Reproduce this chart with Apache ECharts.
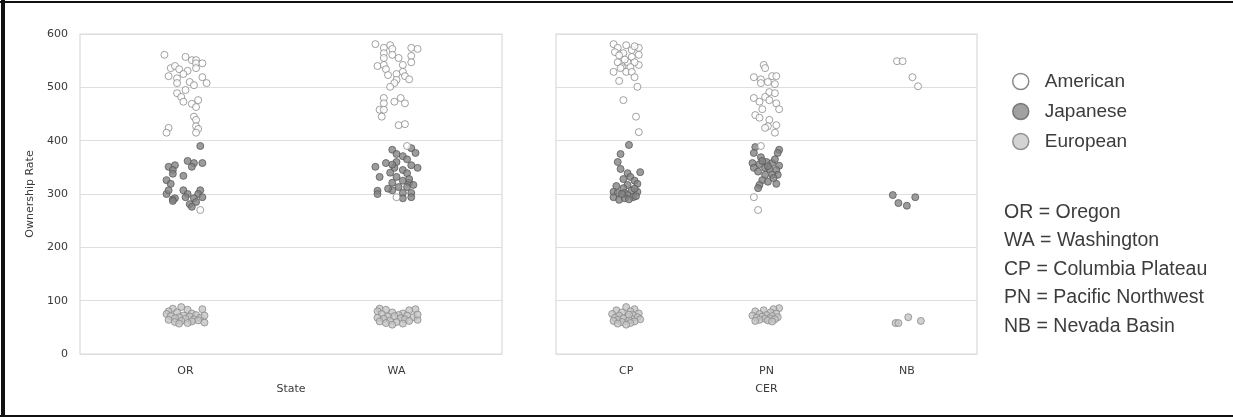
<!DOCTYPE html>
<html>
<head>
<meta charset="utf-8">
<script src="https://cdn.jsdelivr.net/npm/echarts@6/dist/echarts.min.js"></script>
<style>
html,body{margin:0;padding:0;background:#fff;}
#c{width:1233px;height:417px;}
</style>
</head>
<body>
<div id="c"></div>
<script>
// ---- categories / labels ----
const states = ['OR', 'WA'];
const cers = ['CP', 'PN', 'NB'];
const origins = ['American', 'Japanese', 'European'];
const yTicks = [0, 100, 200, 300, 400, 500, 600];
const abbreviations = ['OR = Oregon', 'WA = Washington', 'CP = Columbia Plateau', 'PN = Pacific Northwest', 'NB = Nevada Basin'];

// ---- values (ownership rate) and strip jitter (category units) ----
const OR_American = [561,557,551,551,545,545,536,540,534,531,536,521,525,519,517,508,508,510,504,495,489,482,476,473,469,463,445,439,427,422,415,424,415,270];
const OR_American_jitter = [-0.10,0.00,0.03,0.05,0.05,0.08,-0.07,-0.05,-0.03,0.01,0.05,-0.08,-0.01,0.08,-0.04,0.10,-0.04,0.02,0.04,0.00,-0.04,-0.02,0.06,-0.01,0.03,0.05,0.04,0.05,0.05,0.06,0.05,-0.08,-0.09,0.07];
const OR_Japanese = [390,362,358,358,351,354,351,345,338,334,326,319,300,307,307,300,307,300,294,292,294,290,292,285,281,276,287];
const OR_Japanese_jitter = [0.07,0.01,0.04,0.08,0.03,-0.05,-0.08,-0.06,-0.06,-0.01,-0.09,-0.07,-0.09,-0.08,-0.01,0.01,0.07,0.06,0.00,0.04,0.08,-0.06,-0.05,0.05,0.02,0.03,-0.06];
const OR_European = [85,88,83,84,80,78,76,75,73,72,71,70,69,68,67,66,65,64,63,62,61,60,59,58,57,72];
const OR_European_jitter = [-0.06,-0.02,0.01,0.08,-0.08,-0.04,0.03,-0.09,0.05,-0.01,-0.07,0.02,-0.03,0.07,-0.05,0.00,0.04,-0.08,0.06,-0.02,0.03,-0.05,0.09,0.01,-0.03,0.09];

const WA_American = [581,574,579,572,574,572,564,561,559,555,555,540,542,542,547,534,529,525,523,521,515,514,508,501,480,473,480,470,470,458,458,445,429,431,390,294];
const WA_American_jitter = [-0.10,-0.06,-0.03,-0.02,0.07,0.10,-0.06,-0.02,0.07,-0.06,0.01,-0.09,-0.06,0.03,0.07,-0.05,0.03,0.00,-0.04,0.04,0.06,0.00,-0.01,-0.03,-0.06,-0.01,0.02,0.04,-0.06,-0.08,-0.06,-0.07,0.01,0.04,0.05,0.00];
const WA_Japanese = [386,383,377,375,371,358,360,351,354,349,345,349,339,332,332,325,321,321,313,313,317,306,300,307,302,302,292,294,340,328,355,365,310];
const WA_Japanese_jitter = [0.07,-0.02,0.09,0.00,0.03,-0.05,0.00,-0.10,0.07,0.10,0.03,-0.01,0.05,-0.08,0.00,0.03,-0.02,0.06,0.01,0.05,0.08,-0.09,-0.09,-0.02,0.03,0.07,0.03,0.07,-0.03,0.06,-0.02,0.05,-0.04];
const WA_European = [85,83,80,78,76,82,84,75,73,72,70,69,68,67,66,65,64,63,62,61,60,58,57,55,74,71];
const WA_European_jitter = [-0.08,-0.05,-0.09,-0.02,0.03,0.06,0.09,-0.07,0.01,0.05,-0.04,0.08,-0.09,0.02,-0.06,0.04,0.10,-0.03,0.06,-0.08,0.00,-0.05,0.03,-0.02,0.10,-0.01];

const CP_American = [581,574,579,574,566,564,561,557,547,547,542,547,538,538,529,529,529,536,519,512,501,476,445,416,570,552,560,577];
const CP_American_jitter = [-0.09,-0.06,0.00,0.09,-0.08,-0.02,0.09,0.04,-0.06,0.01,0.09,0.06,-0.03,0.03,-0.09,0.00,0.04,-0.04,0.06,-0.05,0.08,-0.02,0.07,0.09,0.04,-0.01,-0.05,0.06];
const CP_Japanese = [392,375,360,347,341,339,332,328,325,319,315,317,311,307,304,304,302,302,298,294,289,292,294,310,296,290,300];
const CP_Japanese_jitter = [0.02,-0.04,-0.06,-0.04,0.10,0.01,0.03,-0.02,0.06,0.08,-0.07,0.01,-0.02,0.04,0.08,-0.09,-0.06,-0.01,0.01,-0.09,-0.05,-0.01,0.05,0.06,0.07,0.02,-0.03];
const CP_European = [88,84,82,80,78,76,75,73,72,70,69,68,67,66,65,64,63,62,61,60,58,57,55,74];
const CP_European_jitter = [0.00,0.06,-0.07,0.03,-0.03,0.09,-0.10,0.05,-0.05,0.01,0.08,-0.08,-0.02,0.04,0.10,-0.06,0.02,-0.09,0.06,-0.03,0.03,-0.06,0.00,0.02];

const PN_American = [542,536,519,515,521,521,510,508,506,491,489,480,482,473,476,470,459,459,448,443,439,429,427,424,415,390,294,270];
const PN_American_jitter = [-0.02,-0.01,-0.09,-0.04,0.04,0.07,0.01,-0.04,0.06,0.02,0.06,-0.09,-0.01,-0.05,0.02,0.07,0.09,-0.03,-0.08,-0.05,0.02,0.07,0.01,-0.01,0.06,-0.04,-0.09,-0.06];
const PN_Japanese = [388,383,377,377,369,358,356,360,358,353,349,349,347,345,336,336,336,326,323,319,317,311,352,362,342,330,365];
const PN_Japanese_jitter = [-0.08,0.09,-0.09,0.08,-0.04,-0.10,-0.05,0.00,0.04,0.09,-0.09,-0.01,0.02,0.07,0.08,-0.01,0.04,-0.03,0.01,0.07,-0.05,-0.06,0.01,-0.03,-0.06,0.05,0.06];
const PN_European = [86,84,82,80,78,76,75,73,72,71,70,69,68,67,66,65,64,63,62,61];
const PN_European_jitter = [0.09,0.05,-0.02,-0.08,0.03,0.07,-0.05,0.00,-0.10,0.04,-0.03,0.08,-0.07,0.02,-0.01,0.06,-0.05,0.01,-0.08,0.04];

const NB_American = [549,549,519,502];
const NB_American_jitter = [-0.07,-0.03,0.04,0.08];
const NB_Japanese = [298,283,278,294];
const NB_Japanese_jitter = [-0.10,-0.06,0.00,0.06];
const NB_European = [58,58,69,62];
const NB_European_jitter = [-0.08,-0.06,0.01,0.10];

// ---- build ----
const groups = {
  OR: {American:[OR_American,OR_American_jitter], Japanese:[OR_Japanese,OR_Japanese_jitter], European:[OR_European,OR_European_jitter]},
  WA: {American:[WA_American,WA_American_jitter], Japanese:[WA_Japanese,WA_Japanese_jitter], European:[WA_European,WA_European_jitter]},
  CP: {American:[CP_American,CP_American_jitter], Japanese:[CP_Japanese,CP_Japanese_jitter], European:[CP_European,CP_European_jitter]},
  PN: {American:[PN_American,PN_American_jitter], Japanese:[PN_Japanese,PN_Japanese_jitter], European:[PN_European,PN_European_jitter]},
  NB: {American:[NB_American,NB_American_jitter], Japanese:[NB_Japanese,NB_Japanese_jitter], European:[NB_European,NB_European_jitter]}
};

const styles = {
  American: {color:'#ffffff', borderColor:'#8a8a8a', borderWidth:1},
  Japanese: {color:'#838383', borderColor:'#5a5a5a', borderWidth:1},
  European: {color:'#c4c4c4', borderColor:'#8a8a8a', borderWidth:1}
};
const legendStyles = {
  American: {color:'#ffffff', borderColor:'#6a6a6a', borderWidth:1.5},
  Japanese: {color:'#8a8a8a', borderColor:'#626262', borderWidth:1.5},
  European: {color:'#c8c8c8', borderColor:'#7a7a7a', borderWidth:1.5}
};

function pts(cats, origin) {
  const out = [];
  cats.forEach((cat, ci) => {
    const [vals, jit] = groups[cat][origin];
    vals.forEach((v, i) => out.push([ci + jit[i], v]));
  });
  return out;
}

const series = [];
const panels = [{cats: states, xIdx: 1, yIdx: 0}, {cats: cers, xIdx: 3, yIdx: 1}];
panels.forEach(p => {
  origins.forEach(o => {
    series.push({
      name: o, type: 'scatter', xAxisIndex: p.xIdx, yAxisIndex: p.yIdx,
      symbol: 'circle', symbolSize: 7, itemStyle: styles[o],
      data: pts(p.cats, o), animation: false, z: o === 'American' ? 3 : 2
    });
  });
});

const tickFont = {fontFamily: 'DejaVu Sans', fontSize: 11, color: '#3a3a3a'};
function catAxis(grid, data, name) {
  return {
    gridIndex: grid, type: 'category', data: data, boundaryGap: true,
    axisLine: {show: false}, axisTick: {show: false},
    axisLabel: Object.assign({margin: 12}, tickFont),
    name: name, nameLocation: 'middle', nameGap: 30,
    nameTextStyle: tickFont, splitLine: {show: false}
  };
}
function valXAxis(grid, n) {
  return {gridIndex: grid, type: 'value', min: -0.5, max: n - 0.5, show: false};
}
function yAx(grid, labels) {
  return {
    gridIndex: grid, type: 'value', min: yTicks[0], max: yTicks[yTicks.length - 1], interval: 100,
    axisLine: {show: false}, axisTick: {show: false},
    axisLabel: Object.assign({show: labels, margin: 12}, tickFont),
    splitLine: {show: true, lineStyle: {color: '#dedede', width: 1.2}},
    name: labels ? 'Ownership Rate' : '', nameLocation: 'middle', nameGap: 44,
    nameTextStyle: tickFont
  };
}

const option = {
  backgroundColor: '#fff',
  animation: false,
  grid: [
    {left: 80, right: 731, top: 34, bottom: 63, show: true, borderColor: '#d9d9d9', borderWidth: 1.2},
    {left: 556, right: 256, top: 34, bottom: 63, show: true, borderColor: '#d9d9d9', borderWidth: 1.2}
  ],
  xAxis: [catAxis(0, states, 'State'), valXAxis(0, states.length), catAxis(1, cers, 'CER'), valXAxis(1, cers.length)],
  yAxis: [yAx(0, true), yAx(1, false)],
  legend: {
    orient: 'vertical', left: 1007, top: 67, itemWidth: 16, itemHeight: 16, itemGap: 11,
    icon: 'circle', selectedMode: false,
    textStyle: {fontFamily: 'Liberation Sans', fontSize: 19, color: '#3c3c3c', padding: [0, 0, 0, 11]},
    data: origins.map(o => ({name: o, itemStyle: legendStyles[o]}))
  },
  title: {
    text: abbreviations.join('\n'), left: 999, top: 193,
    textStyle: {fontFamily: 'Liberation Sans', fontSize: 19.5, fontWeight: 'normal', color: '#3c3c3c', lineHeight: 28.5}
  },
  graphic: [
    {type: 'rect', shape: {x: 1, y: 0, width: 4, height: 417}, style: {fill: '#111'}, silent: true},
    {type: 'rect', shape: {x: 0, y: 1, width: 1233, height: 2}, style: {fill: '#111'}, silent: true},
    {type: 'rect', shape: {x: 0, y: 415, width: 1233, height: 2}, style: {fill: '#111'}, silent: true}
  ],
  series: series
};

const chart = echarts.init(document.getElementById('c'), null, {renderer: 'canvas'});
chart.setOption(option);
</script>
</body>
</html>
